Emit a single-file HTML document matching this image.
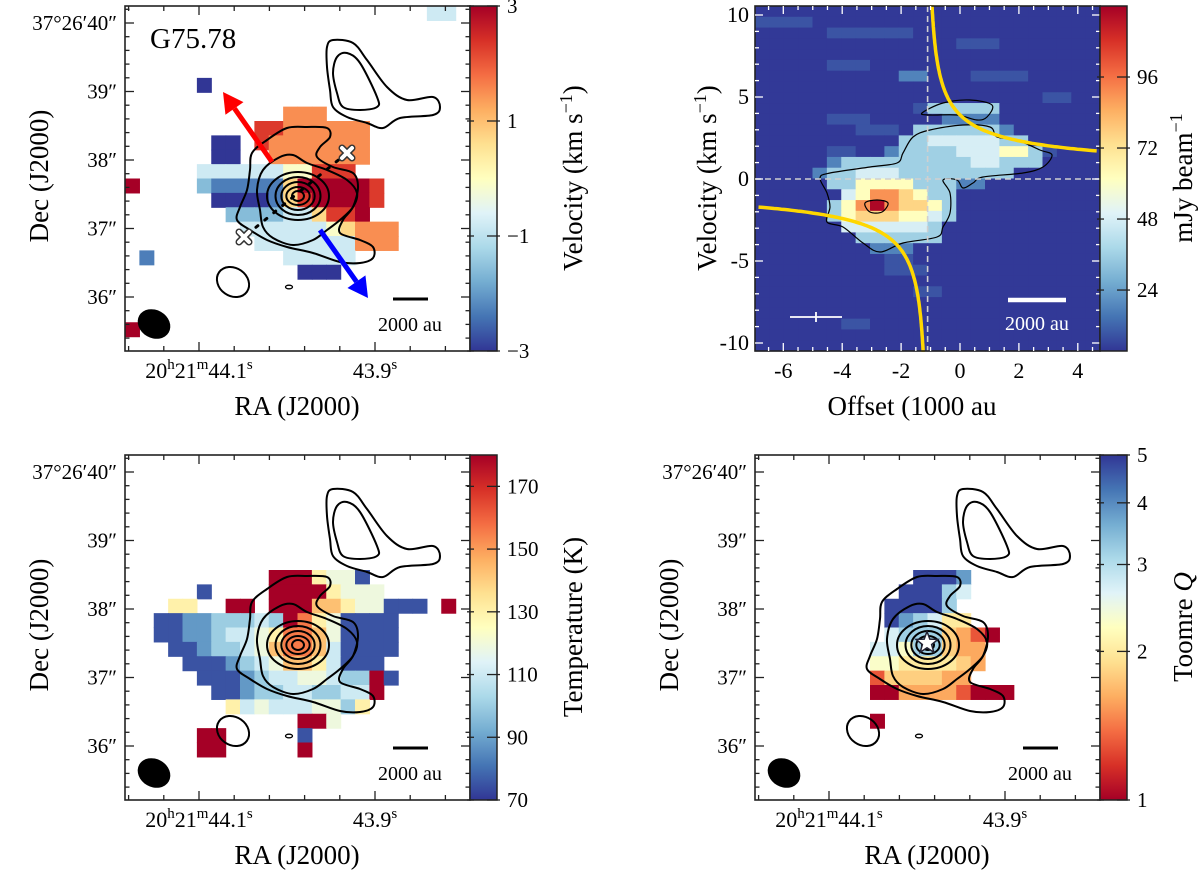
<!DOCTYPE html>
<html><head><meta charset="utf-8">
<style>
html,body{margin:0;padding:0;background:#fff;}
svg{display:block;font-family:"Liberation Serif","DejaVu Serif",serif;}
</style></head>
<body>
<svg id="fig" width="1200" height="872" viewBox="0 0 1200 872" xmlns="http://www.w3.org/2000/svg">
  <defs id="defs"></defs>
  <g id="p1"></g>
  <g id="p2"></g>
  <g id="p3"></g>
  <g id="p4"></g>
</svg>
<script>
// ---------------- DATA ----------------
const velLevels = [-3, -2.3, -1.6, -0.8, -0.1, 0.7, 1.5, 2.3, 3.0];
const velCodes = [
".....................33.",
"........................",
"........................",
"........................",
"........................",
".....0..................",
"........................",
"...........666..........",
".........77666666.......",
"......00.76666666.......",
"......00..6666666.......",
".....33333344777........",
"8....2111115888887......",
"......000015788887......",
".......2222335778.......",
"........33333345666.....",
".........3333333666.....",
".1.........33333........",
"............000.........",
"........................",
"........................",
"........................",
"8.......................",
"........................"
];
const tempLevels = [75, 88, 100, 110, 119, 130, 143, 156, 168, 180];
const tempCodes = [
"........................",
"........................",
"........................",
"........................",
"........................",
"........................",
"........................",
"........................",
"..........9995440.......",
".....0....99995444......",
"...55..99.99966544000.9.",
"..00112223297540000.....",
"..00112334577640000.....",
"...0012234677630000.....",
"....00012346653000......",
".....00012334432290.....",
"......001223322339......",
".......5343334425.......",
"............994.........",
".....99.....0...........",
".....99.....9...........",
"........................",
"........................",
"........................"
];
const qLevels = [1.0, 1.3, 1.6, 1.8, 2.0, 2.3, 2.7, 3.2, 3.8, 4.8];
const qCodes = [
"........................",
"........................",
"........................",
"........................",
"........................",
"........................",
"........................",
"........................",
"...........9998.........",
"..........99976.........",
".........99997..........",
".........987644.........",
".........67773210.......",
"........66577322........",
"........55444432........",
"........1333322.........",
"........0022221000......",
"........................",
"........0...............",
"........................",
"........................",
"........................",
"........................",
"........................"
];
const pvLevels = [4, 9, 18, 36, 48, 62, 76, 90, 104, 118];
const pvCodes = [
"000000000000000000000000",
"111100000000000000000000",
"000001111110000000000000",
"000000000000001110000000",
"000000000000000000000000",
"000001110000000000000000",
"000000000022000111100000",
"000000000000000000000000",
"000000000000000000001100",
"000000000001333330000000",
"000001110000022220000000",
"000000011103333332000000",
"000000000033444443300000",
"000001100233334445531000",
"000002333333333443330000",
"000023344433333333000000",
"000003355553332200000000",
"000000457765330000000000",
"000003579766530000000000",
"000003566655430000000000",
"000000444444300000000000",
"000000033333300000000000",
"000000002220000000000000",
"000000000110000000000000",
"000000000111000000000000",
"000000000000000000000000",
"000000000001100000000000",
"000000000000000000000000",
"000000000000000000000000",
"000000110000000000000000",
"000000000000000000000000",
"000000000000000000000000"
];
const decTickVals = [40, 39, 38, 37, 36];
const decTickText = ["37°26′40″", "39″", "38″", "37″", "36″"];
const raTickVals = [44.1, 43.9];
const pvOffsetTicks = [-6, -4, -2, 0, 2, 4];
const pvVelTicks = [10, 5, 0, -5, -10];
const velCbTicks = [3, 1, -1, -3];
const tempCbTicks = [170, 150, 130, 110, 90, 70];
const pvCbTicks = [96, 72, 48, 24];
const qCbTicks = [5, 4, 3, 2, 1];
const keplerCoef = [4.1];
const pvCenter = [-1.1, 0];

const contourTRouter = [[202,41],[208,34],[228,37],[242,54],[262,81],[282,94],[308,91],[315,101],[308,109],[275,112],[258,122],[242,117],[222,111],[208,101],[205,84],[202,61]];
const contourTRinner = [[212,51],[222,47],[235,57],[252,91],[252,101],[235,104],[218,101],[212,87],[208,67]];
const contourMainOuter = [[127,147],[142,134],[162,122],[182,121],[202,122],[205,131],[195,141],[192,151],[208,161],[228,167],[233,181],[228,201],[218,214],[215,227],[235,234],[248,241],[248,252],[235,257],[215,256],[188,247],[162,241],[142,234],[125,224],[112,214],[115,201],[122,184],[125,164]];
const contourMain2 = [[138,164],[155,151],[168,149],[182,157],[202,164],[222,174],[232,187],[228,201],[215,214],[202,224],[188,234],[168,239],[148,232],[138,221],[135,204],[132,184]];
const ringRx = [31, 22.5, 16.7, 11.7, 6];
const ringRy = [24, 19, 14, 9, 5];
const pvContourMain = [[65,172],[75,167],[115,161],[142,157],[148,147],[158,131],[175,124],[208,119],[235,121],[242,131],[262,134],[285,144],[297,149],[288,161],[268,167],[228,171],[218,177],[208,182],[202,174],[188,174],[195,187],[195,207],[188,221],[182,231],[148,237],[125,246],[108,237],[88,221],[72,216],[75,201],[72,187]];
const pvContourTop = [[167,107],[188,97],[215,94],[237,99],[232,111],[222,114],[202,109],[175,109]];
const pvContourPeak = [[110,197],[122,194],[133,197],[127,206],[115,206]];

// ---------------- HELPERS ----------------
const NS = 'http://www.w3.org/2000/svg';
const MAP = 345;
const stops = ['#313695','#4575b4','#74add1','#abd9e9','#e0f3f8','#ffffbf','#fee090','#fdae61','#f46d43','#d73027','#a50026'];
function hex(h){return [parseInt(h.slice(1,3),16),parseInt(h.slice(3,5),16),parseInt(h.slice(5,7),16)];}
function cmap(t){
  t = Math.max(0, Math.min(1, t));
  const p = t * 10, i = Math.min(9, Math.floor(p)), f = p - i;
  const a = hex(stops[i]), b = hex(stops[i+1]);
  return 'rgb(' + a.map((v,k)=>Math.round(v + (b[k]-v)*f)).join(',') + ')';
}
function mk(tag, attrs, parent){
  const e = document.createElementNS(NS, tag);
  for (const k in attrs) e.setAttribute(k, attrs[k]);
  parent.appendChild(e);
  return e;
}
function smooth(pts, ox, oy){
  const n = pts.length; let d = '';
  for (let i = 0; i < n; i++){
    const p0 = pts[(i-1+n)%n], p1 = pts[i], p2 = pts[(i+1)%n], p3 = pts[(i+2)%n];
    if (i === 0) d += 'M' + (ox+p1[0]) + ',' + (oy+p1[1]);
    const c1x = p1[0] + (p2[0]-p0[0])/6, c1y = p1[1] + (p2[1]-p0[1])/6;
    const c2x = p2[0] - (p3[0]-p1[0])/6, c2y = p2[1] - (p3[1]-p1[1])/6;
    d += 'C' + (ox+c1x) + ',' + (oy+c1y) + ' ' + (ox+c2x) + ',' + (oy+c2y) + ' ' + (ox+p2[0]) + ',' + (oy+p2[1]);
  }
  return d + 'Z';
}
function txt(parent, x, y, html, size, anchor, fill, rot, name){
  const t = mk('text', {x:x, y:y, 'font-size':size, 'text-anchor':anchor, fill:fill}, parent);
  if (rot) t.setAttribute('transform', 'rotate(-90 ' + x + ' ' + y + ')');
  t.innerHTML = html;
  
  
  return t;
}
function drawGrid(g, codes, levels, toT, ox, oy, nCols, nRows){
  const cw = MAP / nCols, chh = MAP / nRows;
  codes.forEach((row, r) => {
    for (let c = 0; c < row.length; c++){
      const ch = row[c];
      if (ch === '.' || ch === ' ') continue;
      const v = levels[+ch];
      const el = mk('rect', {x:(ox + c*cw).toFixed(2), y:(oy + r*chh).toFixed(2), width:(cw+0.6).toFixed(2), height:(chh+0.6).toFixed(2), fill:cmap(toT(v))}, g);
      
      
    }
  });
}
function colorbar(g, x, y, reversed, name){
  const defs = document.getElementById('defs');
  const gid = 'grad-' + name;
  const lg = mk('linearGradient', {id:gid, x1:0, y1:0, x2:0, y2:1}, defs);
  for (let i = 0; i <= 20; i++){
    const t = reversed ? i/20 : 1 - i/20;
    mk('stop', {offset:(i/20), 'stop-color':cmap(t)}, lg);
  }
  const r = mk('rect', {x:x, y:y, width:27, height:MAP, fill:'url(#'+gid+')', stroke:'#222', 'stroke-width':1.5}, g);
  
  
}
function cbTick(g, x, y, labelHtml, lx, name){
  const l1 = mk('line', {x1:x, y1:y, x2:x+7, y2:y, stroke:'#222', 'stroke-width':1.3}, g);
  
  
  const l2 = mk('line', {x1:x+20, y1:y, x2:x+33, y2:y, stroke:'#222', 'stroke-width':1.3}, g);
  
  
  txt(g, lx, y+7, labelHtml, 21, 'start', '#000', false, name);
}
function tickLine(g, x1, y1, x2, y2, col){
  const l = mk('line', {x1:x1, y1:y1, x2:x2, y2:y2, stroke:col, 'stroke-width':1.3}, g);
  
  
}

function decY(a){ return 17 + (40 - a) * 68.5; }
function raX(s){ return 74 + (44.1 - s) * 880; }
function offX(o){ return 205 + o * 29.45; }
function velY(v){ return 173 - v * 16.4; }

function contours(g, ox, oy){
  [contourTRouter, contourTRinner, contourMainOuter, contourMain2].forEach(c => {
    const p = mk('path', {d:smooth(c, ox, oy), fill:'none', stroke:'#000', 'stroke-width':2}, g);
    
    
  });
  for (let i = 0; i < ringRx.length; i++){
    const e = mk('ellipse', {cx:ox+173, cy:oy+190, rx:ringRx[i], ry:ringRy[i], fill:'none', stroke:'#000', 'stroke-width':2}, g);
    
    
  }
  const s1 = mk('ellipse', {cx:ox+108, cy:oy+276, rx:17, ry:14, transform:'rotate(35 '+(ox+108)+' '+(oy+276)+')', fill:'none', stroke:'#000', 'stroke-width':2}, g);
  
  
  const s2 = mk('ellipse', {cx:ox+164, cy:oy+281, rx:3.5, ry:1.8, fill:'none', stroke:'#000', 'stroke-width':1.3}, g);
  
  
}

function mapPanel(g, ox, oy, codes, levels, toT, cbRev, cbName, cbTicks, cbPos, cbLabelHtml, decLabelX, decTitleX, cbTitleX){
  drawGrid(g, codes, levels, toT, ox, oy, 24, 24);
  contours(g, ox, oy);
  const beam = mk('ellipse', {cx:ox+29, cy:oy+318, rx:17, ry:14, transform:'rotate(30 '+(ox+29)+' '+(oy+318)+')', fill:'#000'}, g);
  
  
  const sb = mk('line', {x1:ox+268, y1:oy+293, x2:ox+303, y2:oy+293, stroke:'#000', 'stroke-width':3}, g);
  
  
  txt(g, ox+285, oy+325, '2000 au', 20, 'middle', '#000', false, 'scale-bar-label');
  const box = mk('rect', {x:ox, y:oy, width:MAP, height:MAP, fill:'none', stroke:'#222', 'stroke-width':1.6}, g);
  
  
  for (let k = 0; ; k++){
    const a = 40.2 - 0.2*k, y = decY(a);
    if (y > MAP) break;
    const major = Math.abs(a - Math.round(a)) < 0.01, L = major ? 9 : 4.5;
    tickLine(g, ox, oy+y, ox+L, oy+y, '#222');
    tickLine(g, ox+MAP-L, oy+y, ox+MAP, oy+y, '#222');
  }
  for (let k = 0; ; k++){
    const s = 44.18 - 0.04*k, x = raX(s);
    if (x > MAP) break;
    const major = raTickVals.some(v => Math.abs(v - s) < 0.001), L = major ? 9 : 5;
    tickLine(g, ox+x, oy+MAP, ox+x, oy+MAP-L, '#222');
    tickLine(g, ox+x, oy, ox+x, oy+L, '#222');
  }
  decTickVals.forEach((a, i) => txt(g, decLabelX, oy+decY(a)+7, decTickText[i], 21, 'end', '#000', false, 'dec-tick-label'));
  txt(g, ox+raX(raTickVals[0]), oy+372, '20<tspan dy="-9" font-size="15">h</tspan><tspan dy="9">21</tspan><tspan dy="-9" font-size="15">m</tspan><tspan dy="9">44.1</tspan><tspan dy="-9" font-size="15">s</tspan>', 22, 'middle', '#000', false, 'ra-tick-label');
  txt(g, ox+raX(raTickVals[1]), oy+372, '43.9<tspan dy="-9" font-size="15">s</tspan>', 22, 'middle', '#000', false, 'ra-tick-label');
  txt(g, ox+172, oy+409, 'RA (J2000)', 27, 'middle', '#000', false, 'x-axis-title');
  txt(g, decTitleX, oy+170, 'Dec (J2000)', 27, 'middle', '#000', true, 'y-axis-title');
  colorbar(g, ox+MAP, oy, cbRev, cbName);
  cbTicks.forEach((v, i) => cbTick(g, ox+MAP-3, oy+cbPos(v), String(v).replace('-', '−'), ox+MAP+37, 'colorbar-tick-label'));
  return txt(g, cbTitleX, oy+172, cbLabelHtml, 27, 'middle', '#000', true, 'colorbar-title');
}

// ---------------- PANEL 1 ----------------
(function(){
  const g = document.getElementById('p1'), ox = 125, oy = 6;
  mapPanel(g, ox, oy, velCodes, velLevels, v => (v+3)/6, false, 'velocity-colorbar', velCbTicks, v => (3 - v)/6*MAP,
    'Velocity (km s<tspan dy="-10" font-size="18">−1</tspan><tspan dy="10">)</tspan>', 117, 48, 582);
  txt(g, ox+25, oy+42, 'G75.78', 29, 'start', '#000', false, 'source-name');
  function arrow(x1, y1, x2, y2, col, name){
    const dx = x2-x1, dy = y2-y1, L = Math.hypot(dx, dy), ux = dx/L, uy = dy/L;
    const bx = x2 - ux*20, by = y2 - uy*20;
    const ln = mk('line', {x1:ox+x1, y1:oy+y1, x2:ox+bx, y2:oy+by, stroke:col, 'stroke-width':5}, g);
    
    
    const hd = mk('polygon', {points:(ox+x2)+','+(oy+y2)+' '+(ox+bx-uy*11)+','+(oy+by+ux*11)+' '+(ox+bx+uy*11)+','+(oy+by-ux*11), fill:col}, g);
    
    
  }
  arrow(147, 156, 98, 86, '#ff0000', 'redshifted-outflow-arrow');
  arrow(195, 224, 243, 292, '#0000ff', 'blueshifted-outflow-arrow');
  const dl = mk('line', {x1:ox+222, y1:oy+147, x2:ox+119, y2:oy+231, stroke:'#000', 'stroke-width':3, 'stroke-dasharray':'2.5,9', 'stroke-linecap':'round'}, g);
  
  
  [[222,147],[119,231]].forEach(p => {
    [['#333',7],['#fff',4]].forEach(s => {
      const a = mk('path', {d:'M'+(ox+p[0]-5)+','+(oy+p[1]-5)+'L'+(ox+p[0]+5)+','+(oy+p[1]+5)+'M'+(ox+p[0]+5)+','+(oy+p[1]-5)+'L'+(ox+p[0]-5)+','+(oy+p[1]+5), stroke:s[0], 'stroke-width':s[1], 'stroke-linecap':'round'}, g);
      
      
    });
  });
})();

// ---------------- PANEL 3 ----------------
(function(){
  const g = document.getElementById('p3');
  mapPanel(g, 125, 455, tempCodes, tempLevels, T => (T-70)/110, false, 'temperature-colorbar', tempCbTicks, T => (180 - T)/110*MAP,
    'Temperature (K)', 117, 48, 582);
})();

// ---------------- PANEL 4 ----------------
(function(){
  const g = document.getElementById('p4'), ox = 755, oy = 455;
  mapPanel(g, ox, oy, qCodes, qLevels, Q => 1 - Math.log10(Q)/Math.log10(5), true, 'toomre-colorbar', qCbTicks, Q => (1 - Math.log10(Q)/Math.log10(5))*MAP,
    'Toomre <tspan font-style="italic">Q</tspan>', 747, 678, 1192);
  const cx = ox+172, cy = oy+188; let pts = '';
  for (let i = 0; i < 10; i++){
    const r = i % 2 ? 4.8 : 11.5, a = -Math.PI/2 + i*Math.PI/5;
    pts += (cx + r*Math.cos(a)).toFixed(1) + ',' + (cy + r*Math.sin(a)).toFixed(1) + ' ';
  }
  const st = mk('polygon', {points:pts, fill:'#fff', stroke:'#223', 'stroke-width':1.5}, g);
  
  
})();

// ---------------- PANEL 2 (PV) ----------------
(function(){
  const g = document.getElementById('p2'), ox = 755, oy = 6;
  drawGrid(g, pvCodes, pvLevels, v => (v - 3.4)/116.6, ox, oy, 24, 32);
  [pvContourMain, pvContourTop, pvContourPeak].forEach(c => {
    const p = mk('path', {d:smooth(c, ox, oy), fill:'none', stroke:'#000', 'stroke-width':1.2}, g);
    
    
  });
  const vx = mk('line', {x1:ox+offX(pvCenter[0]), y1:oy, x2:ox+offX(pvCenter[0]), y2:oy+MAP, stroke:'#d0d0d0', 'stroke-width':1.6, 'stroke-dasharray':'6,4'}, g);
  
  
  const hz = mk('line', {x1:ox, y1:oy+velY(pvCenter[1]), x2:ox+MAP, y2:oy+velY(pvCenter[1]), stroke:'#d0d0d0', 'stroke-width':1.6, 'stroke-dasharray':'6,4'}, g);
  
  
  [1, -1].forEach(sg => {
    let d = '';
    for (let i = 0; i <= 400; i++){
      const dx = Math.pow(10, -3 + i*0.0105);
      const o = pvCenter[0] + sg*dx, v = pvCenter[1] + sg*keplerCoef[0]/Math.sqrt(dx);
      const x = offX(o), y = velY(v);
      if (x < 0 || x > MAP) continue;
      const yc = Math.max(-5, Math.min(MAP+5, y));
      d += (d ? 'L' : 'M') + (ox+x).toFixed(1) + ',' + (oy+yc).toFixed(1);
    }
    const p = mk('path', {d:d, fill:'none', stroke:'#ffd700', 'stroke-width':3.5}, g);
    
    
  });
  const m1 = mk('rect', {x:ox, y:oy-12, width:MAP, height:11, fill:'#fff'}, g);
  
  
  const m2 = mk('rect', {x:ox, y:oy+MAP+1, width:MAP, height:11, fill:'#fff'}, g);
  
  
  const eb = mk('path', {d:'M'+(ox+35)+','+(oy+311)+'L'+(ox+87)+','+(oy+311)+'M'+(ox+61)+','+(oy+306)+'L'+(ox+61)+','+(oy+316), stroke:'#fff', 'stroke-width':1.8}, g);
  
  
  const sb = mk('line', {x1:ox+253, y1:oy+294, x2:ox+311, y2:oy+294, stroke:'#fff', 'stroke-width':4.5}, g);
  
  
  txt(g, ox+282, oy+324, '2000 au', 20, 'middle', '#fff', false, 'scale-bar-label');
  const box = mk('rect', {x:ox, y:oy, width:MAP, height:MAP, fill:'none', stroke:'#222', 'stroke-width':1.6}, g);
  
  
  for (let k = 0; ; k++){
    const o = -6.5 + 0.5*k, x = offX(o);
    if (x > MAP) break;
    if (x < 0) continue;
    const major = pvOffsetTicks.includes(o), L = major ? 8 : 4;
    tickLine(g, ox+x, oy+MAP, ox+x, oy+MAP-L, '#fff');
    tickLine(g, ox+x, oy, ox+x, oy+L, '#fff');
  }
  for (let k = -10; k <= 10; k++){
    const y = velY(k), major = pvVelTicks.includes(k), L = major ? 8 : 4;
    tickLine(g, ox, oy+y, ox+L, oy+y, '#fff');
    tickLine(g, ox+MAP-L, oy+y, ox+MAP, oy+y, '#fff');
  }
  pvOffsetTicks.forEach(o => txt(g, ox+offX(o), oy+372, String(o), 22, 'middle', '#000', false, 'x-tick-label'));
  pvVelTicks.forEach(v => txt(g, ox-6, oy+velY(v)+7, String(v), 22, 'end', '#000', false, 'y-tick-label'));
  txt(g, ox+157, oy+409, 'Offset (1000 au', 27, 'middle', '#000', false, 'x-axis-title');
  txt(g, 716, oy+172, 'Velocity (km s<tspan dy="-10" font-size="18">−1</tspan><tspan dy="10">)</tspan>', 27, 'middle', '#000', true, 'y-axis-title');
  colorbar(g, ox+MAP, oy, false, 'intensity-colorbar');
  pvCbTicks.forEach(v => cbTick(g, ox+MAP-3, oy+(120 - v)/116.6*MAP, String(v), ox+MAP+37, 'colorbar-tick-label'));
  txt(g, 1192, oy+172, 'mJy beam<tspan dy="-10" font-size="18">−1</tspan>', 27, 'middle', '#000', true, 'colorbar-title');
})();
</script>
</body></html>
